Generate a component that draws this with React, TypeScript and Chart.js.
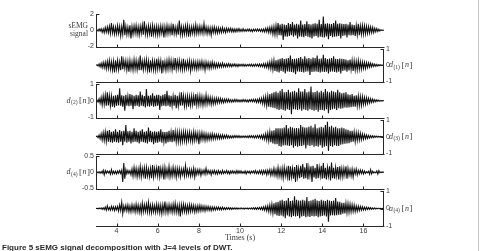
import React, { useEffect, useRef } from "react";
import { Chart, registerables } from "chart.js";

Chart.register(...registerables);

// ---------- data ----------
const sampleCount = 281;
const timeStart = 3;
const timeStep = 0.05;
const times: number[] = Array.from({ length: sampleCount }, (_, i) => Math.round((timeStart + i * timeStep) * 100) / 100);

const xMin = 3;
const xMax = 17;
const xTicks = [4, 6, 8, 10, 12, 14, 16];
const xTitle = "Times (s)";
const caption = "Figure 5 sEMG signal decomposition with J=4 levels of DWT.";

const semgSignal = [
  0, 0.05, -0.1, 0.15, -0.12, 0.2, -0.25, 0.18, -0.3, 0.35, -0.25, 0.4, -0.3, 0.5, -0.4, 0.9, -0.35, 0.45, -0.5, 0.4,
  -0.45, 0.6, -0.4, 0.5, -0.7, 0.45, -0.5, 1.3, -0.6, 0.5, -0.55, 0.4, -0.5, 0.6, -1.0, 0.45, -0.5, 0.55, -0.4, 0.6,
  -0.5, 0.45, -0.6, 0.5, -0.4, 0.65, -0.55, 1.1, -0.5, 0.4, -0.6, 0.55, -0.45, 0.5, -0.8, 0.6, -0.5, 0.45, -0.55, 0.5,
  -0.6, 0.45, -0.5, 0.55, -0.4, 0.5, -0.9, 0.45, -0.5, 0.6, -0.45, 0.5, -0.4, 0.55, -0.6, 0.8, -0.45, 0.4, -0.5, 0.45,
  -0.55, 1.2, -0.5, 0.45, -0.6, 0.4, -0.5, 0.55, -0.45, 0.6, -0.8, 0.4, -0.5, 0.45, -0.4, 0.5, -0.45, 0.7, -0.4, 0.45,
  -0.4, 0.5, -0.35, 0.45, -0.4, 0.8, -0.35, 0.4, -0.45, 0.35, -0.4, 0.3, -0.6, 0.35, -0.3, 0.4, -0.35, 0.3, -0.35, 0.3,
  -0.3, 0.25, -0.3, 0.35, -0.25, 0.2, -0.3, 0.25, -0.2, 0.22, -0.18, 0.25, -0.2, 0.18, -0.22, 0.15, -0.2, 0.18, -0.15, 0.2,
  -0.15, 0.12, -0.15, 0.18, -0.12, 0.1, -0.14, 0.12, -0.1, 0.15, -0.12, 0.1, -0.18, 0.12, -0.1, 0.14, -0.12, 0.15, -0.1, 0.12,
  -0.15, 0.14, -0.18, 0.15, -0.2, 0.25, -0.2, 0.3, -0.28, 0.35, -0.3, 0.4, -0.5, 0.45, -0.55, 0.6, -0.5, 0.9, -0.6, 0.7,
  -0.65, 0.8, -1.2, 0.7, -0.75, 0.65, -0.8, 0.9, -0.7, 0.75, -0.6, 1.0, -0.8, 0.7, -0.65, 0.8, -1.0, 0.7, -0.75, 1.2,
  -0.8, 0.7, -0.85, 0.75, -0.7, 1.1, -0.8, 0.75, -0.9, 0.7, -1.0, 0.8, -0.75, 0.85, -0.7, 0.8, -0.9, 1.3, -0.8, 0.75,
  -0.85, 1.7, -0.9, 0.8, -0.75, 0.85, -1.1, 0.8, -0.7, 0.75, -0.85, 0.9, -0.8, 1.2, -0.75, 0.8, -0.7, 0.85, -1.0, 0.8,
  -0.7, 0.75, -0.65, 0.8, -0.9, 0.7, -0.6, 1.0, -0.65, 0.7, -0.6, 0.65, -0.7, 0.6, -0.55, 0.8, -0.6, 0.55, -0.5, 0.6,
  -0.5, 0.55, -0.45, 0.5, -0.4, 0.45, -0.35, 0.4, -0.3, 0.35, -0.3, 0.25, -0.2, 0.22, -0.15, 0.12, -0.1, 0.06, -0.03, 0.01,
  0,
];

const d1Signal = [
  0, 0.03, -0.05, 0.08, -0.1, 0.12, -0.15, 0.18, -0.15, 0.2, -0.22, 0.25, -0.2, 0.3, -0.25, 0.22, -0.3, 0.25, -0.45, 0.3,
  -0.25, 0.3, -0.28, 0.22, -0.3, 0.55, -0.25, 0.3, -0.2, 0.28, -0.3, 0.25, -0.4, 0.3, -0.25, 0.22, -0.3, 0.35, -0.25, 0.3,
  -0.28, 0.25, -0.3, 0.6, -0.3, 0.25, -0.28, 0.3, -0.22, 0.35, -0.3, 0.25, -0.45, 0.3, -0.25, 0.28, -0.3, 0.25, -0.3, 0.4,
  -0.25, 0.3, -0.22, 0.28, -0.5, 0.3, -0.25, 0.22, -0.3, 0.28, -0.25, 0.35, -0.22, 0.3, -0.28, 0.25, -0.3, 0.45, -0.25, 0.28,
  -0.22, 0.3, -0.25, 0.22, -0.28, 0.4, -0.25, 0.2, -0.22, 0.25, -0.2, 0.28, -0.35, 0.22, -0.2, 0.25, -0.22, 0.2, -0.25, 0.22,
  -0.2, 0.22, -0.18, 0.25, -0.2, 0.18, -0.3, 0.2, -0.16, 0.18, -0.2, 0.15, -0.18, 0.2, -0.15, 0.14, -0.16, 0.12, -0.14, 0.12,
  -0.12, 0.1, -0.12, 0.14, -0.1, 0.08, -0.1, 0.09, -0.08, 0.1, -0.07, 0.08, -0.09, 0.07, -0.06, 0.08, -0.07, 0.06, -0.08, 0.06,
  -0.05, 0.06, -0.05, 0.07, -0.06, 0.05, -0.06, 0.05, -0.04, 0.06, -0.05, 0.06, -0.07, 0.05, -0.06, 0.07, -0.05, 0.06, -0.07, 0.08,
  -0.08, 0.07, -0.09, 0.1, -0.12, 0.1, -0.14, 0.15, -0.18, 0.2, -0.22, 0.25, -0.28, 0.3, -0.35, 0.3, -0.4, 0.35, -0.45, 0.4,
  -0.35, 0.45, -0.4, 0.38, -0.5, 0.42, -0.38, 0.45, -0.4, 0.6, -0.42, 0.38, -0.45, 0.4, -0.55, 0.42, -0.38, 0.45, -0.4, 0.5,
  -0.42, 0.4, -0.45, 0.55, -0.4, 0.42, -0.38, 0.45, -0.6, 0.4, -0.42, 0.48, -0.4, 0.45, -0.38, 0.6, -0.42, 0.4, -0.45, 0.42,
  -0.4, 0.65, -0.42, 0.45, -0.4, 0.38, -0.5, 0.42, -0.4, 0.45, -0.38, 0.55, -0.42, 0.4, -0.45, 0.38, -0.4, 0.42, -0.5, 0.4,
  -0.35, 0.38, -0.32, 0.35, -0.4, 0.3, -0.32, 0.35, -0.28, 0.3, -0.35, 0.28, -0.3, 0.25, -0.28, 0.3, -0.25, 0.22, -0.25, 0.2,
  -0.2, 0.18, -0.2, 0.16, -0.15, 0.14, -0.12, 0.13, -0.1, 0.1, -0.08, 0.07, -0.06, 0.05, -0.05, 0.04, -0.03, 0.03, -0.02, 0.01,
  0,
];

const d2Signal = [
  0, 0.04, -0.08, 0.12, -0.15, 0.2, -0.25, 0.3, -0.22, 0.35, -0.3, 0.5, -0.28, 0.32, -0.3, 0.28, -0.35, 0.3, -0.4, 0.32,
  -0.3, 0.35, -0.28, 0.75, -0.3, 0.32, -0.35, 0.3, -0.6, 0.35, -0.3, 0.28, -0.32, 0.4, -0.3, 0.35, -0.5, 0.3, -0.32, 0.35,
  -0.3, 0.32, -0.35, 0.55, -0.3, 0.35, -0.32, 0.28, -0.4, 0.7, -0.32, 0.3, -0.35, 0.32, -0.3, 0.45, -0.35, 0.3, -0.32, 0.35,
  -0.3, 0.35, -0.55, 0.3, -0.32, 0.35, -0.3, 0.4, -0.32, 0.6, -0.3, 0.32, -0.35, 0.3, -0.32, 0.28, -0.3, 0.35, -0.45, 0.3,
  -0.32, 0.28, -0.3, 0.5, -0.28, 0.3, -0.32, 0.25, -0.3, 0.28, -0.35, 0.25, -0.28, 0.3, -0.25, 0.28, -0.3, 0.4, -0.25, 0.28,
  -0.25, 0.3, -0.22, 0.25, -0.28, 0.2, -0.22, 0.35, -0.2, 0.22, -0.18, 0.2, -0.22, 0.18, -0.2, 0.15, -0.18, 0.16, -0.14, 0.15,
  -0.12, 0.14, -0.12, 0.1, -0.12, 0.1, -0.09, 0.1, -0.08, 0.09, -0.08, 0.07, -0.08, 0.06, -0.07, 0.08, -0.06, 0.07, -0.06, 0.05,
  -0.06, 0.05, -0.06, 0.07, -0.05, 0.06, -0.06, 0.05, -0.07, 0.06, -0.05, 0.07, -0.06, 0.08, -0.07, 0.08, -0.1, 0.09, -0.1, 0.12,
  -0.12, 0.15, -0.18, 0.2, -0.22, 0.25, -0.3, 0.28, -0.35, 0.4, -0.38, 0.45, -0.42, 0.5, -0.45, 0.55, -0.5, 0.48, -0.55, 0.6,
  -0.5, 0.7, -0.55, 0.5, -0.6, 0.52, -0.5, 0.65, -0.55, 0.5, -0.8, 0.55, -0.5, 0.6, -0.52, 0.5, -0.55, 0.75, -0.5, 0.55,
  -0.6, 0.55, -0.5, 0.7, -0.55, 0.5, -0.6, 0.55, -0.5, 0.85, -0.55, 0.5, -0.6, 0.52, -0.55, 0.6, -0.65, 0.5, -0.55, 0.6,
  -0.55, 0.5, -0.6, 0.7, -0.5, 0.55, -0.75, 0.5, -0.55, 0.6, -0.5, 0.55, -0.48, 0.5, -0.55, 0.65, -0.45, 0.5, -0.48, 0.45,
  -0.45, 0.48, -0.4, 0.5, -0.42, 0.38, -0.4, 0.35, -0.38, 0.4, -0.35, 0.3, -0.35, 0.32, -0.3, 0.28, -0.3, 0.25, -0.28, 0.25,
  -0.22, 0.2, -0.2, 0.18, -0.16, 0.15, -0.14, 0.12, -0.1, 0.1, -0.08, 0.07, -0.06, 0.05, -0.04, 0.04, -0.03, 0.02, -0.02, 0.01,
  0,
];

const d3Signal = [
  0, 0.04, -0.06, 0.1, -0.12, 0.18, -0.2, 0.25, -0.22, 0.3, -0.28, 0.35, -0.3, 0.4, -0.32, 0.3, -0.35, 0.32, -0.3, 0.45,
  -0.32, 0.3, -0.35, 0.4, -0.3, 0.32, -0.5, 0.35, -0.3, 0.7, -0.35, 0.32, -0.3, 0.35, -0.4, 0.3, -0.32, 0.5, -0.3, 0.35,
  -0.32, 0.3, -0.4, 0.35, -0.3, 0.45, -0.32, 0.3, -0.35, 0.32, -0.4, 0.55, -0.3, 0.35, -0.32, 0.3, -0.45, 0.32, -0.35, 0.3,
  -0.35, 0.32, -0.3, 0.45, -0.35, 0.3, -0.32, 0.28, -0.4, 0.3, -0.32, 0.35, -0.3, 0.28, -0.32, 0.4, -0.28, 0.3, -0.32, 0.28,
  -0.3, 0.28, -0.32, 0.25, -0.28, 0.3, -0.25, 0.28, -0.3, 0.25, -0.22, 0.28, -0.25, 0.22, -0.28, 0.3, -0.22, 0.25, -0.2, 0.22,
  -0.45, 0.22, -0.2, 0.25, -0.18, 0.2, -0.22, 0.18, -0.2, 0.16, -0.18, 0.15, -0.16, 0.18, -0.14, 0.15, -0.13, 0.14, -0.12, 0.13,
  -0.12, 0.1, -0.11, 0.12, -0.1, 0.09, -0.08, 0.1, -0.08, 0.07, -0.08, 0.06, -0.07, 0.06, -0.06, 0.07, -0.05, 0.06, -0.05, 0.06,
  -0.05, 0.04, -0.05, 0.05, -0.04, 0.05, -0.05, 0.04, -0.05, 0.06, -0.05, 0.06, -0.05, 0.06, -0.07, 0.06, -0.07, 0.08, -0.07, 0.08,
  -0.09, 0.1, -0.12, 0.12, -0.15, 0.18, -0.2, 0.22, -0.25, 0.3, -0.32, 0.35, -0.4, 0.38, -0.45, 0.5, -0.45, 0.5, -0.55, 0.5,
  -0.6, 0.5, -0.52, 0.55, -0.5, 0.7, -0.52, 0.5, -0.55, 0.6, -0.5, 0.55, -0.65, 0.5, -0.55, 0.52, -0.6, 0.5, -0.55, 0.7,
  -0.55, 0.6, -0.5, 0.55, -0.7, 0.55, -0.5, 0.6, -0.55, 0.65, -0.5, 0.55, -0.6, 0.75, -0.55, 0.5, -0.6, 0.55, -0.5, 0.6,
  -0.65, 0.55, -0.6, 0.7, -0.55, 0.9, -0.85, 0.6, -0.55, 0.65, -0.6, 0.55, -0.5, 0.6, -0.55, 0.5, -0.55, 0.5, -0.48, 0.55,
  -0.45, 0.5, -0.42, 0.45, -0.4, 0.42, -0.38, 0.35, -0.32, 0.35, -0.3, 0.28, -0.3, 0.25, -0.22, 0.25, -0.2, 0.2, -0.18, 0.16,
  -0.15, 0.14, -0.12, 0.1, -0.1, 0.08, -0.08, 0.07, -0.06, 0.06, -0.05, 0.05, -0.04, 0.04, -0.03, 0.03, -0.02, 0.02, -0.01, 0.01,
  0,
];

const d4Signal = [
  0, 0.01, -0.02, 0.02, -0.03, 0.02, -0.03, 0.06, -0.08, 0.05, -0.03, 0.04, -0.02, 0.03, -0.06, 0.08, -0.05, 0.03, -0.04, 0.03,
  -0.05, 0.04, -0.03, 0.05, -0.04, 0.06, -0.3, 0.28, -0.2, 0.08, -0.05, 0.06, -0.04, 0.05, -0.08, 0.1, -0.12, 0.15, -0.1, 0.12,
  -0.14, 0.1, -0.12, 0.18, -0.15, 0.12, -0.1, 0.14, -0.2, 0.15, -0.12, 0.1, -0.14, 0.12, -0.18, 0.22, -0.15, 0.12, -0.1, 0.14,
  -0.12, 0.2, -0.15, 0.12, -0.1, 0.14, -0.22, 0.15, -0.12, 0.1, -0.12, 0.18, -0.14, 0.1, -0.12, 0.15, -0.1, 0.12, -0.16, 0.12,
  -0.1, 0.12, -0.14, 0.1, -0.08, 0.1, -0.12, 0.2, -0.1, 0.08, -0.1, 0.09, -0.12, 0.08, -0.1, 0.12, -0.15, 0.08, -0.07, 0.08,
  -0.06, 0.08, -0.1, 0.06, -0.05, 0.07, -0.06, 0.12, -0.05, 0.06, -0.04, 0.05, -0.08, 0.05, -0.04, 0.06, -0.05, 0.04, -0.06, 0.05,
  -0.04, 0.03, -0.05, 0.06, -0.04, 0.03, -0.03, 0.05, -0.04, 0.03, -0.05, 0.04, -0.03, 0.04, -0.03, 0.03, -0.04, 0.05, -0.03, 0.04,
  -0.03, 0.04, -0.03, 0.02, -0.03, 0.04, -0.05, 0.03, -0.02, 0.03, -0.04, 0.03, -0.02, 0.04, -0.03, 0.05, -0.04, 0.03, -0.04, 0.05,
  -0.04, 0.05, -0.06, 0.05, -0.04, 0.06, -0.08, 0.06, -0.05, 0.08, -0.1, 0.07, -0.08, 0.12, -0.1, 0.08, -0.12, 0.15, -0.12, 0.1,
  -0.14, 0.12, -0.18, 0.15, -0.12, 0.1, -0.15, 0.2, -0.25, 0.18, -0.15, 0.12, -0.2, 0.16, -0.3, 0.22, -0.15, 0.12, -0.18, 0.2,
  -0.15, 0.25, -0.2, 0.15, -0.18, 0.28, -0.22, 0.15, -0.12, 0.18, -0.3, 0.2, -0.16, 0.14, -0.2, 0.25, -0.18, 0.15, -0.12, 0.2,
  -0.2, 0.28, -0.18, 0.14, -0.22, 0.15, -0.12, 0.18, -0.25, 0.3, -0.18, 0.14, -0.2, 0.15, -0.12, 0.16, -0.22, 0.18, -0.14, 0.12,
  -0.15, 0.12, -0.1, 0.18, -0.2, 0.12, -0.1, 0.08, -0.12, 0.1, -0.15, 0.08, -0.06, 0.1, -0.08, 0.06, -0.05, 0.07, -0.04, 0.06,
  -0.05, 0.04, -0.03, 0.02, -0.02, 0.03, -0.06, 0.08, -0.05, 0.03, -0.02, 0.01, -0.02, 0.04, -0.06, 0.05, -0.02, 0.01, -0.01, 0.01,
  0,
];

const a4Signal = [
  0, 0.01, -0.02, 0.03, -0.02, 0.04, -0.05, 0.04, -0.06, 0.08, -0.1, 0.15, -0.08, 0.06, -0.1, 0.12, -0.08, 0.1, -0.12, 0.1,
  -0.08, 0.12, -0.15, 0.2, -0.12, 0.35, -0.3, 0.15, -0.12, 0.18, -0.15, 0.2, -0.18, 0.15, -0.2, 0.22, -0.15, 0.18, -0.2, 0.25,
  -0.18, 0.2, -0.22, 0.18, -0.25, 0.3, -0.2, 0.22, -0.18, 0.25, -0.2, 0.35, -0.22, 0.2, -0.25, 0.22, -0.2, 0.18, -0.22, 0.25,
  -0.2, 0.22, -0.25, 0.2, -0.3, 0.22, -0.2, 0.4, -0.22, 0.2, -0.25, 0.22, -0.18, 0.2, -0.22, 0.25, -0.2, 0.3, -0.22, 0.2,
  -0.25, 0.2, -0.45, 0.22, -0.2, 0.25, -0.18, 0.2, -0.22, 0.18, -0.2, 0.22, -0.18, 0.2, -0.16, 0.18, -0.2, 0.15, -0.18, 0.16,
  -0.15, 0.18, -0.14, 0.15, -0.12, 0.14, -0.15, 0.12, -0.1, 0.12, -0.11, 0.1, -0.12, 0.09, -0.1, 0.08, -0.09, 0.08, -0.07, 0.08,
  -0.07, 0.06, -0.07, 0.08, -0.06, 0.05, -0.06, 0.05, -0.04, 0.05, -0.05, 0.04, -0.05, 0.04, -0.03, 0.04, -0.04, 0.03, -0.04, 0.03,
  -0.03, 0.04, -0.03, 0.03, -0.04, 0.03, -0.02, 0.03, -0.04, 0.03, -0.03, 0.04, -0.03, 0.05, -0.04, 0.04, -0.05, 0.05, -0.04, 0.06,
  -0.06, 0.07, -0.08, 0.1, -0.1, 0.12, -0.14, 0.15, -0.18, 0.2, -0.22, 0.25, -0.28, 0.3, -0.32, 0.35, -0.4, 0.38, -0.42, 0.45,
  -0.4, 0.5, -0.45, 0.42, -0.55, 0.45, -0.4, 0.6, -0.45, 0.42, -0.5, 0.45, -0.42, 0.7, -0.45, 0.5, -0.42, 0.45, -0.55, 0.45,
  -0.45, 0.5, -0.42, 0.45, -0.5, 0.65, -0.45, 0.42, -0.48, 0.45, -0.42, 0.5, -0.45, 0.55, -0.42, 0.45, -0.5, 0.42, -0.45, 0.5,
  -0.42, 0.45, -0.4, 0.42, -0.45, 0.5, -0.75, 0.45, -0.4, 0.42, -0.38, 0.45, -0.4, 0.6, -0.38, 0.4, -0.35, 0.38, -0.35, 0.32,
  -0.3, 0.32, -0.28, 0.3, -0.25, 0.28, -0.22, 0.25, -0.2, 0.22, -0.18, 0.2, -0.18, 0.15, -0.15, 0.14, -0.12, 0.12, -0.1, 0.1,
  -0.09, 0.08, -0.08, 0.07, -0.06, 0.06, -0.05, 0.05, -0.04, 0.04, -0.03, 0.04, -0.03, 0.02, -0.02, 0.02, -0.02, 0.01, -0.01, 0.01,
  0,
];

const semgTicks = [-2, 0, 2];
const d1Ticks = [-1, 0, 1];
const d2Ticks = [-1, 0, 1];
const d3Ticks = [-1, 0, 1];
const d4Ticks = [-0.5, 0, 0.5];
const a4Ticks = [-1, 0, 1];

// ---------- layout / style ----------
const W = 480;
const H = 251;
const PLOT_LEFT = 96;
const PLOT_RIGHT = 384;
const SANS = "'Liberation Sans', Arial, sans-serif";
const SERIF = "'Liberation Serif', 'Times New Roman', serif";
const AXIS_COLOR = "#262626";
const TEXT_COLOR = "#3a3a3a";
const SIGNAL_COLOR = "#111111";

type Label = { lines?: string[]; sym?: string; sub?: string };
type PanelDef = {
  values: number[];
  ticks: number[];
  side: "left" | "right";
  label: Label;
  top: number;
  bottom: number;
  showX: boolean;
};

const panels: PanelDef[] = [
  { values: semgSignal, ticks: semgTicks, side: "left", label: { lines: ["sEMG", "signal"] }, top: 14, bottom: 48, showX: false },
  { values: d1Signal, ticks: d1Ticks, side: "right", label: { sym: "d", sub: "(1)" }, top: 49, bottom: 83, showX: false },
  { values: d2Signal, ticks: d2Ticks, side: "left", label: { sym: "d", sub: "(2)" }, top: 84, bottom: 119, showX: false },
  { values: d3Signal, ticks: d3Ticks, side: "right", label: { sym: "d", sub: "(3)" }, top: 120, bottom: 155, showX: false },
  { values: d4Signal, ticks: d4Ticks, side: "left", label: { sym: "d", sub: "(4)" }, top: 156, bottom: 190, showX: false },
  { values: a4Signal, ticks: a4Ticks, side: "right", label: { sym: "a", sub: "(4)" }, top: 191, bottom: 226, showX: true },
];

const PAD_TOP = 8;
const PAD_BOTTOM = 4;
const X_AXIS_H = 16;

function Panel({ p }: { p: PanelDef }) {
  const ref = useRef<HTMLCanvasElement | null>(null);
  const plotH = p.bottom - p.top;
  const canvasH = PAD_TOP + plotH + (p.showX ? X_AXIS_H : PAD_BOTTOM);

  useEffect(() => {
    const canvas = ref.current;
    if (!canvas) return;
    const yMin = p.ticks[0];
    const yMax = p.ticks[p.ticks.length - 1];

    const framePlugin = {
      id: "frame",
      afterDraw(chart: any) {
        const { ctx, chartArea } = chart;
        const { left, right, top, bottom } = chartArea;
        const xs = chart.scales.x;
        const ys = chart.scales.y;
        ctx.save();
        ctx.strokeStyle = AXIS_COLOR;
        ctx.lineWidth = 1;
        const by = Math.round(bottom) + 0.5;
        ctx.beginPath();
        ctx.moveTo(left, by);
        ctx.lineTo(right + 0.5, by);
        const vx = p.side === "left" ? Math.round(left) + 0.5 : Math.round(right) - 0.5;
        ctx.moveTo(vx, Math.round(top));
        ctx.lineTo(vx, by);
        for (const v of xTicks) {
          const px = Math.round(xs.getPixelForValue(v)) + 0.5;
          ctx.moveTo(px, by);
          ctx.lineTo(px, by - 3);
        }
        for (const v of p.ticks) {
          const py = Math.round(ys.getPixelForValue(v)) + 0.5;
          ctx.moveTo(vx, py);
          ctx.lineTo(p.side === "left" ? vx + 3 : vx - 3, py);
        }
        ctx.stroke();

        // y label (horizontal, as in the figure)
        const zy = ys.getPixelForValue(0);
        ctx.fillStyle = TEXT_COLOR;
        ctx.textBaseline = "middle";
        if (p.label.lines) {
          ctx.font = `7.5px ${SERIF}`;
          ctx.textAlign = "right";
          ctx.fillText(p.label.lines[0], 88, zy - 4.5);
          ctx.fillText(p.label.lines[1], 88, zy + 3.5);
        } else if (p.label.sym) {
          const fMain = `italic 8px ${SERIF}`;
          const fSub = `5.5px ${SERIF}`;
          const fBr = `9px ${SERIF}`;
          ctx.textAlign = "left";
          const parts: { t: string; f: string; dy: number; gap: number }[] = [
            { t: p.label.sym, f: fMain, dy: 0, gap: 0.5 },
            { t: p.label.sub || "", f: fSub, dy: 2, gap: 1.5 },
            { t: "[", f: fBr, dy: 0, gap: 0.5 },
            { t: "n", f: fMain, dy: 0, gap: 0.5 },
            { t: "]", f: fBr, dy: 0, gap: 0 },
          ];
          let total = 0;
          const widths = parts.map((pt) => {
            ctx.font = pt.f;
            const w = ctx.measureText(pt.t).width;
            total += w + pt.gap;
            return w;
          });
          let x = p.side === "left" ? 90 - total : 389;
          parts.forEach((pt, i) => {
            ctx.font = pt.f;
            ctx.fillText(pt.t, x, zy + pt.dy);
            x += widths[i] + pt.gap;
          });
        }
        ctx.restore();
      },
    };

    const chart = new Chart(canvas, {
      type: "line",
      data: {
        datasets: [
          {
            data: times.map((t, i) => ({ x: t, y: p.values[i] })),
            borderColor: SIGNAL_COLOR,
            borderWidth: 1.1,
            pointRadius: 0,
            tension: 0,
            fill: false,
          },
        ],
      },
      options: {
        animation: false,
        responsive: false,
        maintainAspectRatio: false,
        events: [],
        layout: {
          padding: {
            top: PAD_TOP,
            bottom: p.showX ? 0 : PAD_BOTTOM,
            left: p.side === "right" ? PLOT_LEFT : 0,
            right: p.side === "left" ? W - PLOT_RIGHT : 0,
          },
        },
        plugins: { legend: { display: false }, tooltip: { enabled: false } },
        scales: {
          x: {
            type: "linear",
            min: xMin,
            max: xMax,
            display: p.showX,
            grid: { display: false, drawTicks: false },
            border: { display: false },
            afterBuildTicks: (s: any) => {
              s.ticks = xTicks.map((v) => ({ value: v }));
            },
            afterFit: (s: any) => {
              if (p.showX) s.height = X_AXIS_H;
            },
            ticks: {
              font: { family: SANS, size: 7, lineHeight: 1 },
              color: TEXT_COLOR,
              padding: 2,
              maxRotation: 0,
              autoSkip: false,
            },
            title: {
              display: true,
              text: xTitle,
              font: { family: SERIF, size: 8, lineHeight: 1 },
              color: TEXT_COLOR,
              padding: 0,
            },
          },
          y: {
            type: "linear",
            position: p.side,
            min: yMin,
            max: yMax,
            grid: { display: false, drawTicks: false },
            border: { display: false },
            afterBuildTicks: (s: any) => {
              s.ticks = p.ticks.map((v) => ({ value: v }));
            },
            afterFit: (s: any) => {
              s.width = p.side === "left" ? PLOT_LEFT : W - PLOT_RIGHT;
            },
            ticks: {
              font: { family: SANS, size: 7, lineHeight: 1 },
              color: TEXT_COLOR,
              padding: 2,
              autoSkip: false,
            },
          },
        },
      },
      plugins: [framePlugin],
    } as any);
    return () => chart.destroy();
  }, [p]);

  return (
    <div style={{ position: "absolute", left: 0, top: p.top - PAD_TOP, width: W, height: canvasH }}>
      <canvas ref={ref} width={W} height={canvasH} style={{ width: W, height: canvasH, display: "block" }} />
    </div>
  );
}

export default function App() {
  return (
    <div style={{ position: "absolute", left: 0, top: 0, width: W, height: H, overflow: "hidden", background: "#fff" }}>
      {panels.map((p, i) => (
        <Panel key={i} p={p} />
      ))}
      <div style={{ position: "absolute", left: W - 2, top: 0, width: 1, height: H, background: "#c4c4c4" }} />
      <div
        style={{
          position: "absolute",
          left: 2,
          top: 243,
          fontFamily: SANS,
          fontWeight: "bold",
          fontSize: "8px",
          lineHeight: "9px",
          color: "#2a2a2a",
          whiteSpace: "nowrap",
        }}
      >
        {caption}
      </div>
    </div>
  );
}
